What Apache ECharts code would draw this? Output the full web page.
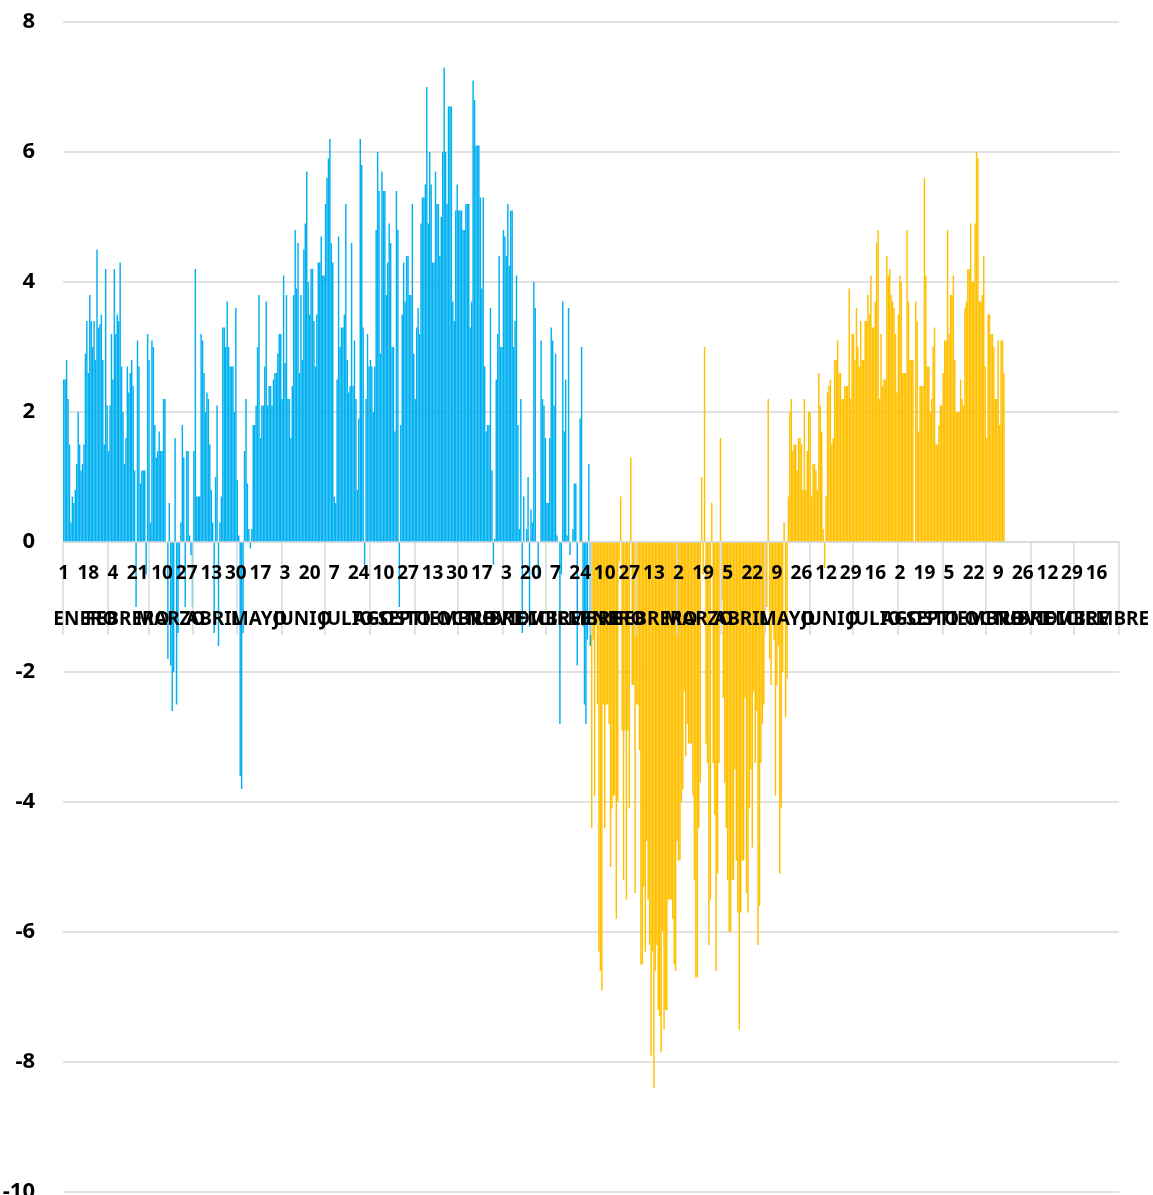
<!DOCTYPE html>
<html><head><meta charset="utf-8">
<script src="https://cdn.jsdelivr.net/npm/echarts@6/dist/echarts.min.js"></script>
<style>html,body{margin:0;padding:0;background:#fff}#c{width:1153px;height:1195px}</style>
</head><body><div id="c"></div>
<script>
const monthNames = ['ENERO','FEBRERO','MARZO','ABRIL','MAYO','JUNIO','JULIO','AGOSTO','SEPTIEMBRE','OCTUBRE','NOVIEMBRE','DICIEMBRE'];
const monthDays = [31,28,31,30,31,30,31,31,30,31,30,31];
const yearCount = 2;
const dayLabelEvery = 17;
const yMin = -10, yMax = 8, yStep = 2;

// Year 1 (blue), one value per day, Jan 1 .. Dec 31
const blue = [
 2.5, 2.5, 2.8, 2.2, 1.5, 0.3, 0.7, 0.6, 0.8, 1.2,
 2.0, 1.5, 1.1, 1.2, 1.5, 2.9, 3.4, 2.6, 3.8, 3.4,
 3.0, 3.4, 2.8, 4.5, 3.3, 3.35, 3.5, 2.8, 1.5, 4.2,
 2.1, 1.4, 2.1, 3.2, 2.5, 4.2, 3.2, 3.5, 3.4, 4.3,
 2.7, 2.0, 1.2, 1.6, 2.7, 2.3, 2.6, 2.8, 2.4, 1.1,
 -1.0, 3.1, 2.7, 0.9, 1.1, 1.1, 1.1, -0.5, 3.2, 2.8,
 0.3, 3.1, 3.0, 1.8, 1.3, 1.4, 1.7, 1.4, 1.4, 2.2,
 2.2, 0.0, -1.8, 0.6, -1.9, -2.6, -2.0, 1.6, -2.5, -1.4,
 -0.5, 0.3, 1.8, 1.3, -1.0, 1.4, 1.4, 0.1, -0.2, -1.0,
 1.4, 4.2, 0.7, 0.7, 0.7, 3.2, 3.1, 2.6, 2.0, 2.3,
 2.2, 1.5, 0.8, 0.3, -1.4, 1.0, 2.1, -1.6, 0.3, 0.7,
 3.3, 3.3, 3.0, 3.7, 3.0, 2.7, 2.7, 2.7, 2.0, 3.6,
 0.95, 0.1, -3.6, -3.8, -1.4, 1.4, 2.2, 0.9, 0.2, -0.1,
 0.2, 1.8, 1.8, 2.1, 3.0, 3.8, 1.6, 2.1, 2.1, 2.7,
 3.7, 2.1, 2.4, 2.4, 2.1, 2.5, 2.6, 2.6, 2.9, 3.2,
 3.2, 2.2, 4.1, 2.75, 3.8, 2.2, 2.2, 1.6, 2.4, 3.8,
 4.8, 3.9, 4.6, 2.6, 3.8, 2.8, 4.5, 4.9, 5.7, 4.0,
 3.5, 4.2, 4.2, 3.4, 2.7, 3.5, 4.3, 4.3, 4.7, 4.1,
 4.1, 5.2, 5.6, 5.9, 6.2, 4.6, 4.3, 0.7, 0.6, 2.5,
 4.7, 3.0, 3.3, 3.3, 3.5, 5.2, 2.8, 2.3, 2.4, 4.6,
 2.4, 3.1, 2.2, 0.8, 1.9, 6.2, 5.8, 3.3, -0.4, 2.2,
 3.2, 2.7, 2.8, 2.7, 2.0, 2.7, 4.8, 6.0, 5.4, 2.9,
 5.7, 5.4, 5.4, 3.8, 4.3, 4.9, 4.6, 3.0, 3.0, 1.7,
 5.4, 4.8, -1.0, 1.8, 3.5, 4.3, 3.7, 4.4, 4.4, 3.8,
 3.8, 5.2, 2.9, 2.2, 3.3, 3.6, 3.2, 4.9, 5.3, 5.3,
 5.5, 7.0, 4.9, 6.0, 5.5, 4.3, 4.3, 5.7, 5.2, 5.2,
 4.4, 5.0, 6.0, 7.3, 6.0, 5.2, 6.7, 6.7, 6.7, 3.7,
 3.4, 5.1, 5.5, 5.1, 5.1, 5.1, 4.8, 4.8, 5.2, 5.2,
 5.2, 3.3, 3.7, 7.1, 6.8, 6.1, 6.1, 6.1, 5.3, 3.9,
 5.3, 2.7, 1.7, 1.8, 1.8, 3.6, 1.1, -0.35, 0.05, 2.5,
 3.2, 4.4, 3.0, 3.0, 4.8, 4.7, 4.4, 5.2, 4.25, 5.1,
 5.1, 3.0, 3.4, 4.1, 1.8, 0.2, 2.2, -1.4, 0.7, 0.0,
 0.2, 1.0, -1.3, 0.5, 0.3, 4.0, 3.6, 0.0, -0.55, 0.0,
 3.1, 2.2, 2.1, 1.6, 0.6, 0.6, 1.6, 3.3, 3.1, 2.1,
 2.9, 0.1, 0.0, -2.8, -0.5, 3.7, 1.7, 2.5, 0.1, 3.6,
 -0.2, 0.0, 0.2, 0.9, 0.9, -1.9, 0.0, 1.9, 3.0, -1.3,
 -2.5, -2.8, -1.5, 1.2, -1.6
];

// Year 2 (orange), one value per day from Jan 1
const orange = [
 -4.4, -1.5, -3.9, -1.2, -2.5, -6.3, -6.6, -6.9, -2.5, -4.4,
 -2.5, -2.5, -2.8, -5.0, -4.1, -3.9, -3.9, -5.8, -4.0, -0.3,
 0.7, -2.9, -5.2, -2.9, -5.5, -2.9, -4.1, 1.3, -2.2, -2.2,
 -5.4, -2.5, -2.5, -3.2, -6.5, -6.5, -5.3, -6.3, -4.6, -5.5,
 -6.2, -7.9, -6.3, -8.4, -6.6, -6.2, -7.2, -7.3, -7.85, -6.0,
 -7.5, -7.2, -7.2, -5.5, -5.5, -5.5, -5.8, -6.5, -6.6, -4.6,
 -4.9, -4.9, -4.0, -3.8, -2.3, -3.3, -2.8, -3.1, -3.1, -3.1,
 -3.9, -5.2, -6.7, -6.7, -4.4, -3.7, 1.0, -0.5, 3.0, -3.1,
 -3.4, -6.2, -5.5, 0.6, -3.4, -4.2, -6.6, -5.1, -3.4, 1.6,
 -0.9, -2.4, -3.7, -4.4, -5.2, -6.0, -6.0, -5.2, -5.2, -3.5,
 -4.9, -5.7, -7.5, -5.7, -4.9, -4.9, -2.4, -5.4, -5.7, -4.1,
 -3.5, -4.7, -2.3, -3.4, -2.6, -6.2, -5.6, -3.4, -2.8, -2.5,
 -1.4, -1.0, 2.2, -1.8, -2.2, -1.2, -1.5, -3.9, -2.2, -1.6,
 -5.1, -4.1, -2.0, 0.3, -2.7, -2.1, 0.7, 2.0, 2.2, 1.4,
 1.5, 1.5, 1.1, 1.6, 1.6, 1.5, 0.8, 2.2, 0.8, 1.4,
 2.0, 2.0, 0.7, 1.2, 1.2, 1.1, 0.8, 2.6, 2.1, 1.7,
 0.2, -0.4, 0.7, 2.3, 2.4, 2.5, 1.5, 1.6, 2.8, 2.8,
 3.1, 2.6, 2.6, 2.2, 2.2, 2.4, 2.4, 2.4, 3.9, 2.2,
 3.2, 3.2, 2.8, 3.6, 3.0, 2.7, 3.4, 2.8, 2.8, 3.4,
 3.4, 3.8, 3.5, 4.1, 3.3, 3.3, 3.7, 4.6, 4.8, 2.2,
 3.2, 2.4, 2.5, 2.5, 4.4, 4.1, 4.2, 3.8, 3.7, 3.6,
 3.2, 2.3, 3.5, 4.1, 4.0, 2.6, 2.6, 2.6, 4.8, 3.7,
 2.8, 2.8, 2.8, 0.0, 3.7, 3.4, 1.7, 2.4, 2.4, 2.4,
 5.6, 4.1, 2.7, 2.7, 2.0, 2.2, 3.0, 3.3, 1.5, 1.5,
 1.8, 2.1, 2.1, 2.6, 3.1, 3.1, 4.8, 3.2, 3.8, 3.8,
 4.1, 2.8, 2.0, 2.0, 2.0, 2.5, 2.2, 2.1, 3.6, 3.7,
 4.2, 4.2, 4.9, 4.0, 4.0, 4.9, 6.0, 5.9, 3.7, 3.7,
 3.8, 4.4, 2.7, 1.6, 3.5, 3.5, 3.2, 3.2, 3.0, 2.2,
 2.2, 3.1, 1.8, 3.1, 3.1, 2.6
];

// ---- build category axis (day of month + month groups) ----
const categories = [];
const firstIdx = new Set();
const midIdx = new Set();
for (let y = 0; y < yearCount; y++) {
  for (let m = 0; m < 12; m++) {
    const start = categories.length;
    for (let d = 1; d <= monthDays[m]; d++) categories.push(y + '-' + m + '-' + d);
    firstIdx.add(start);
    midIdx.add(start + Math.floor((monthDays[m] - 1) / 2));
  }
}
const total = categories.length;
const firstCat = categories[0], lastCat = categories[total - 1];
const blueData = blue.concat(new Array(total - blue.length).fill(null));
const orangeData = new Array(blue.length).fill(null).concat(orange);
while (orangeData.length < total) orangeData.push(null);

// layout
const W = 1153, H = 1195;
const grid = {left: 63, right: 34, top: 22, bottom: 3};
const plotH = H - grid.top - grid.bottom;
// move the category axis from the grid bottom up to the value 0 line
const zeroOffset = -plotH * (0 - yMin) / (yMax - yMin);

const FONT = '"Noto Sans", "Liberation Sans", sans-serif';
const chart = echarts.init(document.getElementById('c'), null, {renderer: 'canvas'});
chart.setOption({
  animation: false,
  backgroundColor: '#ffffff',
  grid: Object.assign({containLabel: false, outerBoundsMode: 'none'}, grid),
  xAxis: [
    {
      type: 'category', data: categories, position: 'bottom', offset: zeroOffset, z: 10,
      axisLine: {show: true, onZero: false, lineStyle: {color: '#d9d9d9', width: 1.5}},
      axisTick: {show: true, interval: (i) => firstIdx.has(i), length: 93, lineStyle: {color: '#d9d9d9', width: 1.5}},
      axisLabel: {
        interval: (i) => i % dayLabelEvery === 0,
        formatter: (v) => v.split('-')[2],
        hideOverlap: false,
        margin: 22, fontFamily: FONT, fontWeight: 'bold', fontSize: 19, color: '#000'
      },
      splitLine: {show: false}
    },
    {
      // month group labels; the empty first/last entries keep every month name visible
      type: 'category', data: categories, position: 'bottom', offset: zeroOffset, z: 10,
      axisLine: {show: false, onZero: false},
      axisTick: {show: false},
      axisLabel: {
        interval: (i) => i === 0 || i === total - 1 || midIdx.has(i),
        formatter: (v) => (v === firstCat || v === lastCat) ? '' : monthNames[+v.split('-')[1]],
        showMinLabel: false, showMaxLabel: false, hideOverlap: false,
        margin: 68, fontFamily: FONT, fontWeight: 'bold', fontSize: 19, color: '#000'
      },
      splitLine: {show: false}
    }
  ],
  yAxis: {
    type: 'value', min: yMin, max: yMax, interval: yStep,
    axisLine: {show: false}, axisTick: {show: false},
    splitLine: {lineStyle: {color: '#d9d9d9', width: 1.5}},
    axisLabel: {margin: 28, fontFamily: FONT, fontWeight: 'bold', fontSize: 22, color: '#000'}
  },
  series: [
    {type: 'bar', name: 'A', data: blueData, itemStyle: {color: '#00B0F0'}, barGap: '-100%', barCategoryGap: '0%', xAxisIndex: 0},
    {type: 'bar', name: 'B', data: orangeData, itemStyle: {color: '#FFC000'}, barGap: '-100%', barCategoryGap: '0%', xAxisIndex: 0}
  ]
});
</script>
</body></html>
